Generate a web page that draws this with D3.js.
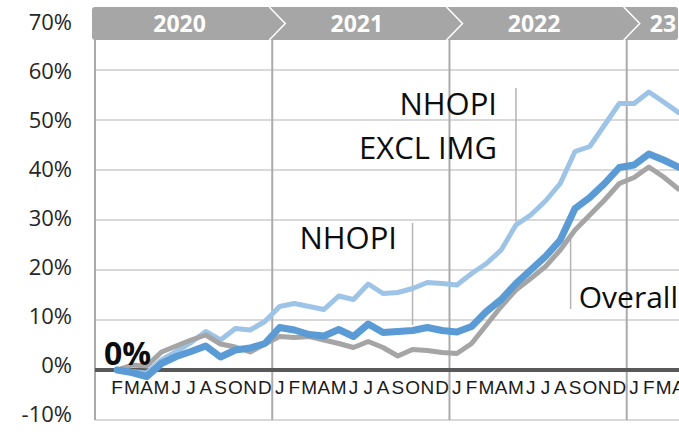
<!DOCTYPE html>
<html>
<head>
<meta charset="utf-8">
<script src="https://cdn.jsdelivr.net/npm/d3@7"></script>
<style>
  html, body { margin: 0; padding: 0; background: #fff; }
  svg { display: block; }
</style>
</head>
<body>
<svg id="chart" width="679" height="432"></svg>
<script>
// ---------- DATA ----------
const monthLabels = ["", "F","M","A","M","J","J","A","S","O","N","D",
  "J","F","M","A","M","J","J","A","S","O","N","D",
  "J","F","M","A","M","J","J","A","S","O","N","D",
  "J","F","M","A"];
const years = ["2020", "2021", "2022", "23"];
const yearStartIndex = [0, 12, 24, 36];
const yTicks = [-10, 0, 10, 20, 30, 40, 50, 60, 70];

// NHOPI excluding immigrants (light blue)
const nhopiExclImg = [null, 0, -0.3, -0.6, 2.0, 3.7, 5.5, 7.7, 6.0, 8.3, 8.0, 9.7,
  12.7, 13.3, 12.7, 12.1, 14.8, 14.1, 17.2, 15.3, 15.5, 16.3, 17.5, 17.3,
  17.0, 19.3, 21.3, 24.0, 29.0, 31.0, 33.8, 37.3, 43.7, 44.7, 49.0, 53.3,
  53.3, 55.6, 53.6, 51.5];
// NHOPI (mid blue)
const nhopi = [null, 0, -0.5, -1.3, 1.3, 2.7, 3.7, 4.8, 2.6, 4.0, 4.4, 5.3,
  8.5, 8.0, 7.1, 6.8, 8.1, 6.7, 9.2, 7.5, 7.7, 7.9, 8.5, 7.9,
  7.6, 8.7, 11.7, 14.1, 17.3, 20.0, 22.7, 26.0, 32.3, 34.5, 37.3, 40.5,
  41.0, 43.2, 42.0, 40.6];
// Overall (gray)
const overall = [null, 0, 1.0, 0.8, 3.6, 4.8, 6.0, 7.0, 5.2, 4.6, 3.6, 5.2,
  6.7, 6.5, 6.7, 6.0, 5.3, 4.5, 5.7, 4.5, 2.8, 4.1, 3.9, 3.5,
  3.3, 5.3, 9.0, 12.7, 16.0, 18.3, 20.7, 24.0, 28.0, 31.0, 34.0, 37.3,
  38.5, 40.6, 38.6, 36.2];

// leader lines: [month index, from value, to value]
const leaders = [
  [28, 56.4, 29.6],   // NHOPI EXCL IMG -> light blue
  [21, 29.4, 9.0],    // NHOPI -> mid blue
  [31.7, 27.4, 12.2]  // Overall -> gray
];

// ---------- LAYOUT ----------
const svg = d3.select("#chart");
const W = 679, H = 432;
const plotLeft = 95, monthW = 14.77;
const plotTop = 20, plotBottom = 420;

const x = d3.scaleBand()
  .domain(d3.range(monthLabels.length))
  .range([plotLeft, plotLeft + monthLabels.length * monthW])
  .paddingInner(0).paddingOuter(0);
const bw = x.bandwidth();
const xc = i => x(i) + bw / 2;
const xf = v => plotLeft + (v + 0.5) * monthW;

const y = d3.scaleLinear().domain([-10, 70]).range([plotBottom, plotTop]);
// tick-label scale (labels sit on a slightly tighter spacing than the grid)
const yLab = d3.scaleLinear().domain([-10, 70]).range([414.5, 21.7]);

const sansFont = "'Open Sans', 'Noto Sans', sans-serif";
const armFont = "'Liberation Sans', Arial, sans-serif";

// gridlines
svg.append("g").selectAll("line")
  .data(yTicks.filter(t => t !== 0 && t !== 70))
  .join("line")
  .attr("x1", plotLeft).attr("x2", W)
  .attr("y1", d => y(d)).attr("y2", d => y(d))
  .attr("stroke", "#D9D9D9").attr("stroke-width", 2);

// left axis + year separators
const sepIdx = [0].concat(yearStartIndex.slice(1));
svg.append("g").selectAll("line")
  .data(sepIdx)
  .join("line")
  .attr("x1", d => x(d)).attr("x2", d => x(d))
  .attr("y1", 40).attr("y2", y(-10))
  .attr("stroke", "#ABABAB").attr("stroke-width", 2);

// leader lines
svg.append("g").selectAll("line")
  .data(leaders)
  .join("line")
  .attr("x1", d => xf(d[0])).attr("x2", d => xf(d[0]))
  .attr("y1", d => y(d[1])).attr("y2", d => y(d[2]))
  .attr("stroke", "#B4B4B4").attr("stroke-width", 1.5);

// zero line
svg.append("line")
  .attr("x1", plotLeft).attr("x2", W)
  .attr("y1", y(0)).attr("y2", y(0))
  .attr("stroke", "#595959").attr("stroke-width", 4);

// lines
const line = d3.line()
  .defined(d => d != null)
  .x((d, i) => xc(i))
  .y(d => y(d));

const seriesList = [
  { data: nhopiExclImg, color: "#9DC3E6", w: 5 },
  { data: overall, color: "#A5A5A5", w: 5 },
  { data: nhopi, color: "#5B9BD5", w: 7 }
];
svg.append("g").selectAll("path")
  .data(seriesList)
  .join("path")
  .attr("d", d => line(d.data))
  .attr("fill", "none")
  .attr("stroke", d => d.color)
  .attr("stroke-width", d => d.w)
  .attr("stroke-linejoin", "round")
  .attr("stroke-linecap", "round");

// header bar
svg.append("rect")
  .attr("x", 92).attr("y", 7)
  .attr("width", 586).attr("height", 33)
  .attr("rx", 3)
  .attr("fill", "#A6A6A6");
svg.append("g").selectAll("polyline")
  .data(yearStartIndex.slice(1))
  .join("polyline")
  .attr("points", d => {
    const sx = x(d);
    return `${sx - 3},7 ${sx + 13},23.5 ${sx - 3},40`;
  })
  .attr("fill", "none").attr("stroke", "#fff").attr("stroke-width", 1.5);

const yearEnds = yearStartIndex.slice(1).map(d => x(d)).concat([W]);
svg.append("g").selectAll("text")
  .data(years)
  .join("text")
  .attr("x", (d, i) => i < 3 ? (x(yearStartIndex[i]) + yearEnds[i]) / 2 - 4 : 663)
  .attr("y", 32)
  .attr("text-anchor", "middle")
  .attr("font-family", sansFont)
  .attr("font-weight", "bold")
  .attr("font-size", 23)
  .attr("fill", "#fff")
  .text(d => d);

// y tick labels
svg.append("g").selectAll("text")
  .data(yTicks)
  .join("text")
  .attr("x", 72)
  .attr("y", d => yLab(d) + 7.8)
  .attr("text-anchor", "end")
  .attr("font-family", sansFont)
  .attr("font-size", 22)
  .attr("fill", "#262626")
  .text(d => d + "%");

// month labels
svg.append("g").selectAll("text")
  .data(monthLabels)
  .join("text")
  .attr("x", (d, i) => xc(i))
  .attr("y", 394)
  .attr("text-anchor", "middle")
  .attr("font-family", armFont)
  .attr("font-size", 19)
  .attr("fill", "#1a1a1a")
  .text(d => d);

// annotations
const ann = [
  { t: "NHOPI", x: 497, y: 114.5, a: "end", s: 31 },
  { t: "EXCL IMG", x: 497, y: 158.5, a: "end", s: 31 },
  { t: "NHOPI", x: 397, y: 248.5, a: "end", s: 31 },
  { t: "Overall", x: 678, y: 307.5, a: "end", s: 30 }
];
svg.append("g").selectAll("text")
  .data(ann)
  .join("text")
  .attr("x", d => d.x).attr("y", d => d.y)
  .attr("text-anchor", d => d.a)
  .attr("font-family", sansFont)
  .attr("font-size", d => d.s)
  .attr("fill", "#0d0d0d")
  .text(d => d.t);

svg.append("text")
  .attr("x", 104).attr("y", 365)
  .attr("font-family", sansFont)
  .attr("font-weight", "bold")
  .attr("font-size", 32)
  .attr("fill", "#0d0d0d")
  .text("0%");
</script>
</body>
</html>
